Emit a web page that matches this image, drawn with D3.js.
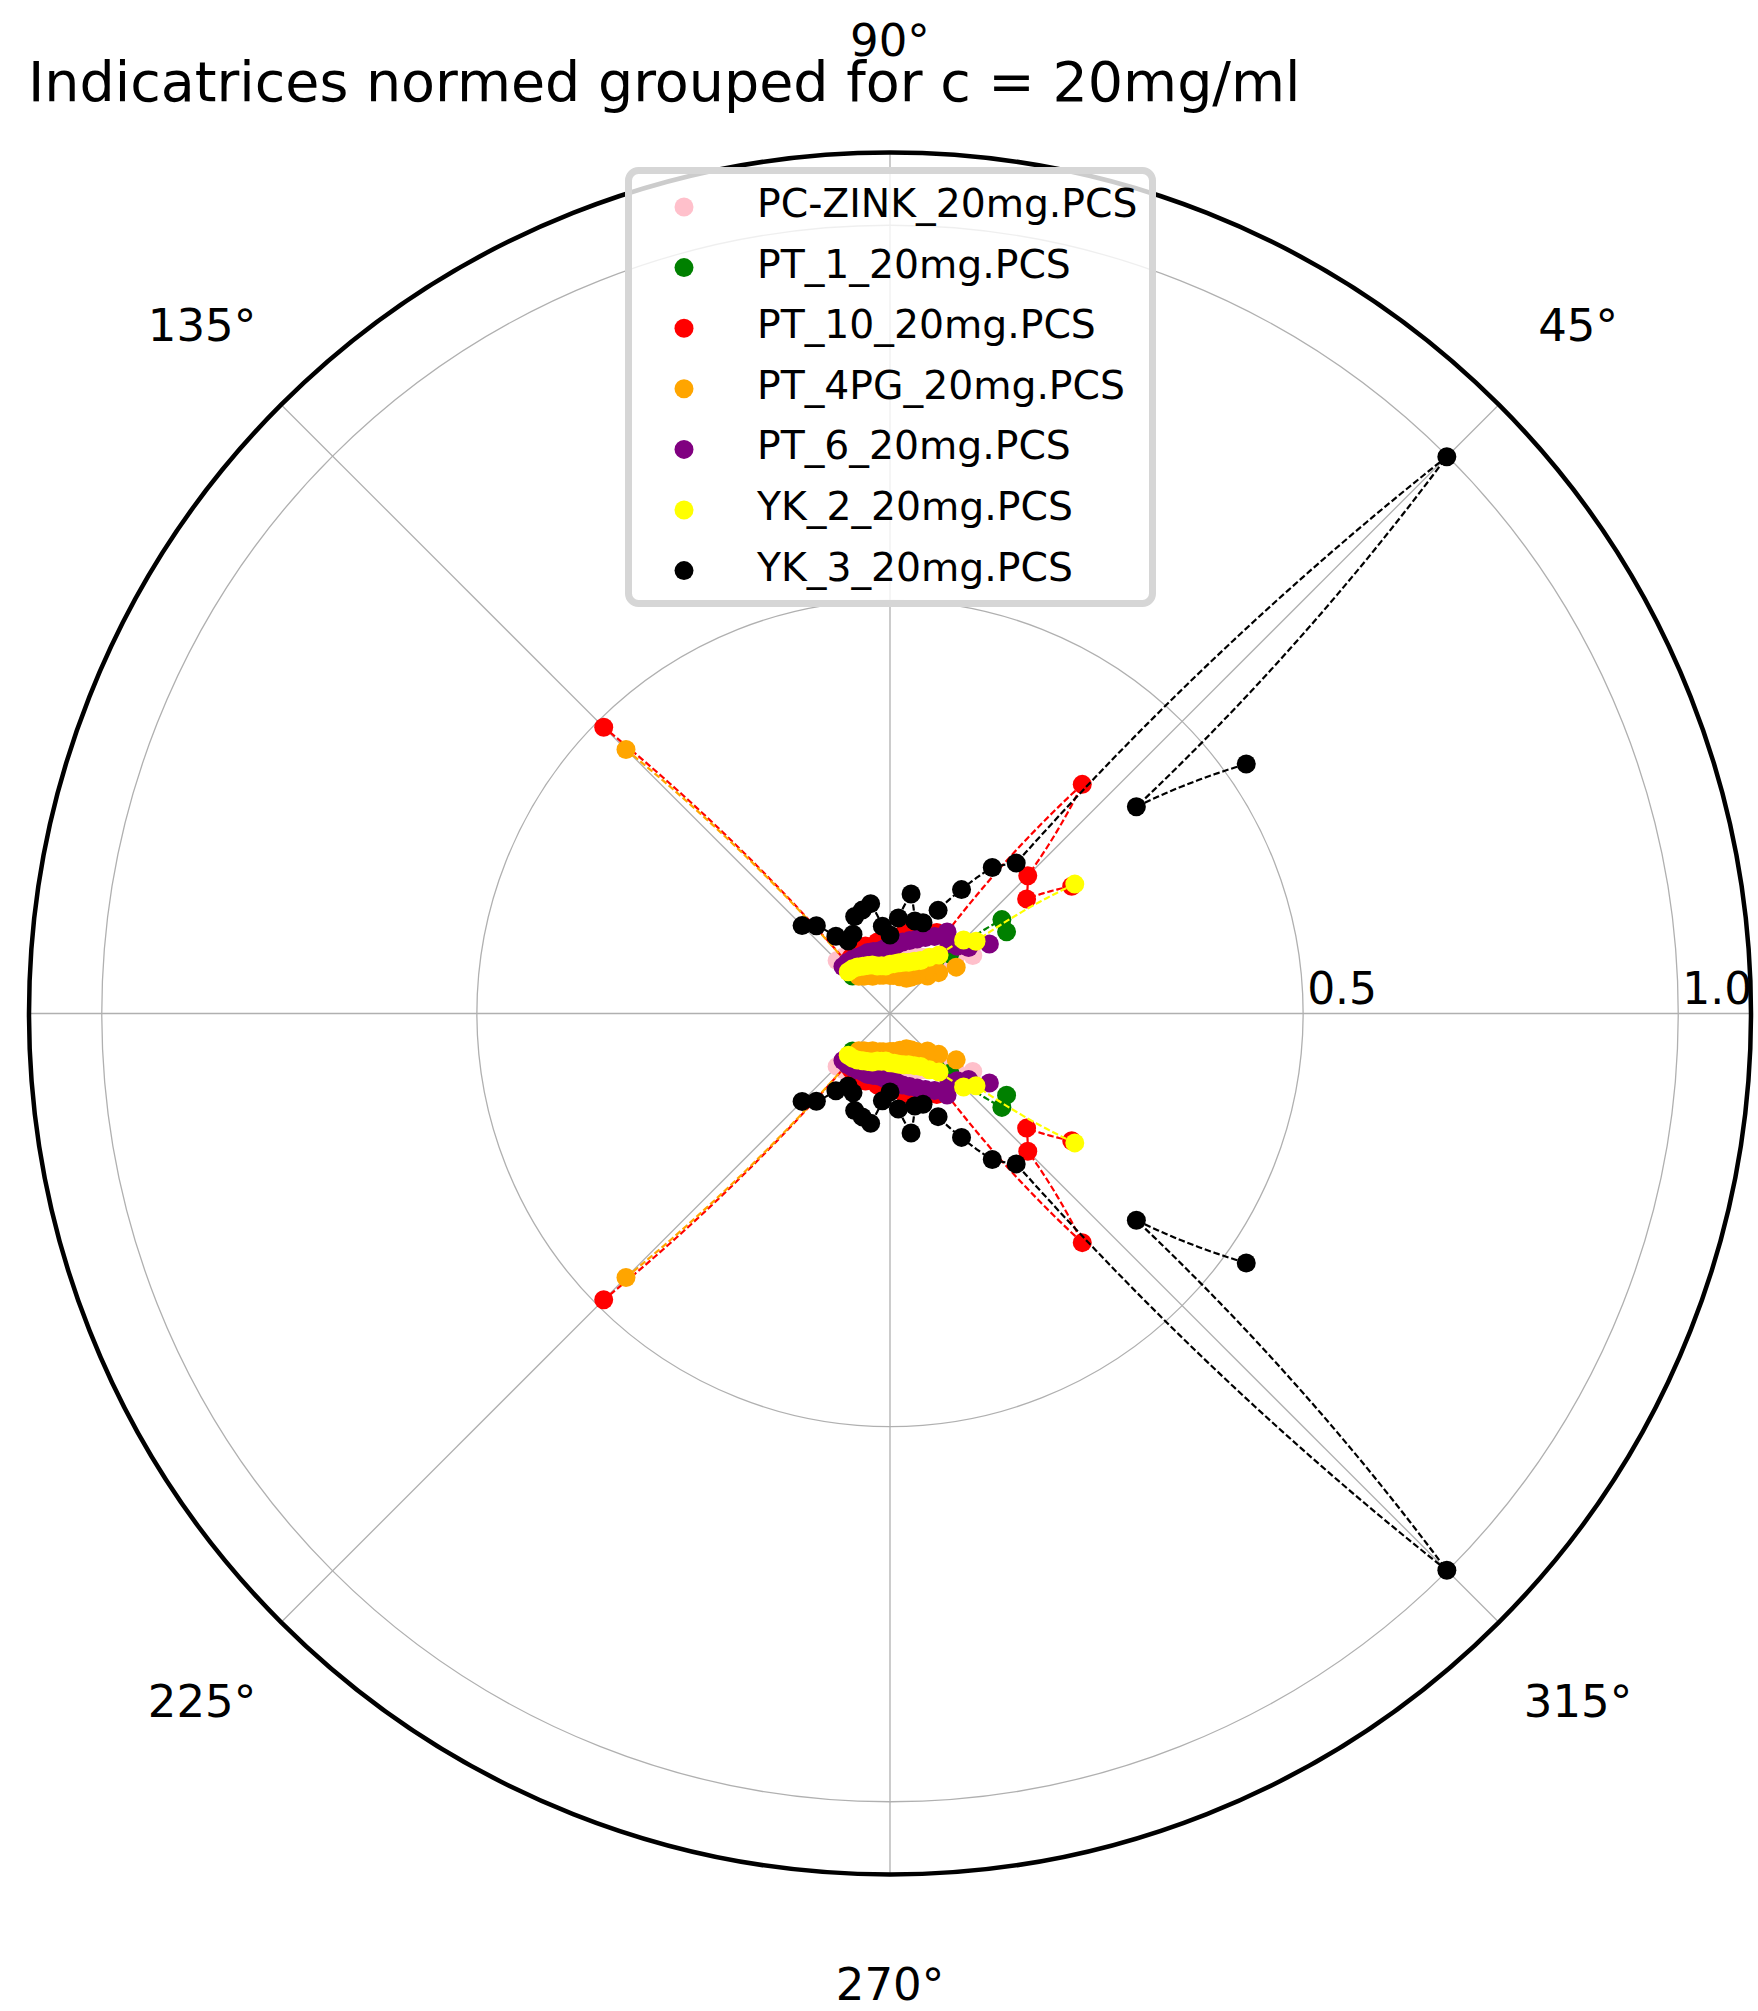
<!DOCTYPE html>
<html>
<head>
<meta charset="utf-8">
<script src="https://cdn.jsdelivr.net/npm/d3@7"></script>
<style>
  body { margin: 0; background: #fff; }
  svg { display: block; font-family: "DejaVu Sans", sans-serif; }
</style>
</head>
<body>
<svg id="chart"></svg>
<script>
const width = 1758, height = 2011;
const center = { x: 890, y: 1013.5 };
const outerRadius = 861;

// scattering angles in degrees (upper half, the indicatrix is drawn mirrored at 360 - angle)
const angles = [35, 40, 45, 50, 55, 60, 65, 70, 75, 80, 85, 90, 95, 100, 105, 110, 115, 120, 125, 130, 135];

const labels = ['PC-ZINK_20mg.PCS', 'PT_1_20mg.PCS', 'PT_10_20mg.PCS', 'PT_4PG_20mg.PCS',
  'PT_6_20mg.PCS', 'YK_2_20mg.PCS', 'YK_3_20mg.PCS'];
const colors = ['pink', 'green', 'red', 'orange', 'purple', 'yellow', 'black'];

// normed intensity per angle
const rPcZink = [0.084, 0.062, 0.052, 0.046, 0.040, 0.036, 0.032, 0.029, 0.027, 0.026, 0.025, 0.025, 0.026, 0.027, 0.029, 0.032, 0.036, 0.040, 0.044, 0.047, 0.049];
const rPt1 = [0.139, 0.144, 0.062, 0.045, 0.034, 0.026, 0.020, 0.014, 0.011, 0.009, 0.007, 0.006, 0.006, 0.007, 0.008, 0.010, 0.011, 0.013, 0.015, 0.018, 0.020];
const rPt10 = [0.245, 0.187, 0.209, 0.348, 0.078, 0.074, 0.067, 0.060, 0.064, 0.058, 0.050, 0.046, 0.050, 0.046, 0.041, 0.045, 0.044, 0.044, 0.040, 0.030, 0.489];
const rPt4pg = [0.057, 0.034, 0.020, 0.024, 0.011, 0.005, 0.001, 0.003, 0.000, 0.002, 0.000, 0.000, 0.003, 0.001, 0.002, 0.005, 0.004, 0.008, 0.010, 0.014, 0.447];
const rPt6 = [0.111, 0.086, 0.076, 0.071, 0.082, 0.068, 0.061, 0.055, 0.050, 0.046, 0.041, 0.038, 0.036, 0.034, 0.035, 0.036, 0.035, 0.036, 0.037, 0.038, 0.038];
const rYk2 = [0.250, 0.099, 0.088, 0.051, 0.041, 0.031, 0.026, 0.022, 0.020, 0.018, 0.016, 0.015, 0.013, 0.014, 0.015, 0.018, 0.020, 0.022, 0.025, 0.027, 0.028];
const rYk3 = [0.529, 0.378, 0.999, 0.211, 0.187, 0.140, 0.101, 0.078, 0.077, 0.111, 0.077, 0.054, 0.066, 0.098, 0.092, 0.087, 0.066, 0.061, 0.075, 0.102, 0.115];
const seriesValues = [rPcZink, rPt1, rPt10, rPt4pg, rPt6, rYk2, rYk3];

const radialTicks = [0.5, 1.0];
const angleTicks = [0, 45, 90, 135, 180, 225, 270, 315];
// 0° and 180° fall outside the picture in the original, so only these get labels
const angleLabels = [45, 90, 135, 225, 270, 315];

const svg = d3.select('#chart')
  .attr('width', width)
  .attr('height', height);

const rScale = d3.scaleLinear().domain([-0.0507, 1.097]).range([0, outerRadius]);
const aScale = d3.scaleLinear().domain([0, 360]).range([0, 2 * Math.PI]);

const toXY = (deg, r) => {
  const a = aScale(deg), d = rScale(r);
  return [center.x + d * Math.cos(a), center.y - d * Math.sin(a)];
};

// lines are straight in (theta, r) like a polar axes, so walk each segment in small steps
const polarPath = (ths, rs) => {
  const p = d3.path();
  const steps = 40;
  ths.forEach((t, i) => {
    if (i === 0) {
      const [x, y] = toXY(t, rs[0]);
      p.moveTo(x, y);
      return;
    }
    const t0 = ths[i - 1], r0 = rs[i - 1];
    for (let k = 1; k <= steps; k++) {
      const f = k / steps;
      const [x, y] = toXY(t0 + (t - t0) * f, r0 + (rs[i] - r0) * f);
      p.lineTo(x, y);
    }
  });
  return p.toString();
};

// grid
const grid = svg.append('g').attr('class', 'grid');
grid.selectAll('.ring')
  .data(radialTicks)
  .enter()
  .append('circle')
  .attr('cx', center.x)
  .attr('cy', center.y)
  .attr('r', d => rScale(d))
  .attr('fill', 'none')
  .attr('stroke', '#b0b0b0')
  .attr('stroke-width', 1.3);

grid.selectAll('.spoke')
  .data(angleTicks)
  .enter()
  .append('line')
  .attr('x1', center.x)
  .attr('y1', center.y)
  .attr('x2', d => center.x + outerRadius * Math.cos(aScale(d)))
  .attr('y2', d => center.y - outerRadius * Math.sin(aScale(d)))
  .attr('stroke', '#b0b0b0')
  .attr('stroke-width', 1.3);

// data
const plot = svg.append('g').attr('class', 'data');
seriesValues.forEach((values, i) => {
  const mirrored = angles.map(a => 360 - a);
  const g = plot.append('g').attr('class', 'series');

  [angles, mirrored].forEach(ths => {
    g.append('path')
      .attr('d', polarPath(ths, values))
      .attr('fill', 'none')
      .attr('stroke', colors[i])
      .attr('stroke-width', 2.2)
      .attr('stroke-dasharray', '6.5,2.8');
  });

  const pts = angles.map((a, j) => ({ a, r: values[j] }))
    .concat(mirrored.map((a, j) => ({ a, r: values[j] })));
  g.selectAll('circle')
    .data(pts)
    .enter()
    .append('circle')
    .attr('cx', d => toXY(d.a, d.r)[0])
    .attr('cy', d => toXY(d.a, d.r)[1])
    .attr('r', 9.5)
    .attr('fill', colors[i]);
});

// outer spine
svg.append('circle')
  .attr('cx', center.x)
  .attr('cy', center.y)
  .attr('r', outerRadius)
  .attr('fill', 'none')
  .attr('stroke', '#000')
  .attr('stroke-width', 4.5);

// tick labels
svg.selectAll('.angle-label')
  .data(angleLabels)
  .enter()
  .append('text')
  .attr('class', 'angle-label')
  .attr('x', d => center.x + 973 * Math.cos(aScale(d)))
  .attr('y', d => center.y - 973 * Math.sin(aScale(d)) - (d === 270 ? 2 : 0))
  .attr('text-anchor', 'middle')
  .attr('dominant-baseline', 'central')
  .attr('font-size', 45)
  .text(d => `${d}°`);

svg.selectAll('.r-label')
  .data(radialTicks)
  .enter()
  .append('text')
  .attr('class', 'r-label')
  .attr('x', d => center.x + rScale(d) + 4)
  .attr('y', center.y - 10)
  .attr('font-size', 44)
  .text(d => d.toFixed(1));

// title
svg.append('text')
  .attr('x', 28)
  .attr('y', 101)
  .attr('font-size', 55.5)
  .text('Indicatrices normed grouped for c = 20mg/ml');

// legend
const legend = svg.append('g').attr('class', 'legend');
legend.append('rect')
  .attr('x', 628.5)
  .attr('y', 170.5)
  .attr('width', 524)
  .attr('height', 433)
  .attr('rx', 10)
  .attr('fill', 'rgba(255,255,255,0.8)')
  .attr('stroke', '#d6d6d6')
  .attr('stroke-width', 7);

const rows = legend.selectAll('.entry')
  .data(labels)
  .enter()
  .append('g')
  .attr('class', 'entry')
  .attr('transform', (d, i) => `translate(0, ${207 + i * 60.6})`);

rows.append('circle')
  .attr('cx', 684)
  .attr('cy', 0)
  .attr('r', 9.5)
  .attr('fill', (d, i) => colors[i]);

rows.append('text')
  .attr('x', 757)
  .attr('y', 10)
  .attr('font-size', 39.3)
  .text(d => d);
</script>
</body>
</html>
